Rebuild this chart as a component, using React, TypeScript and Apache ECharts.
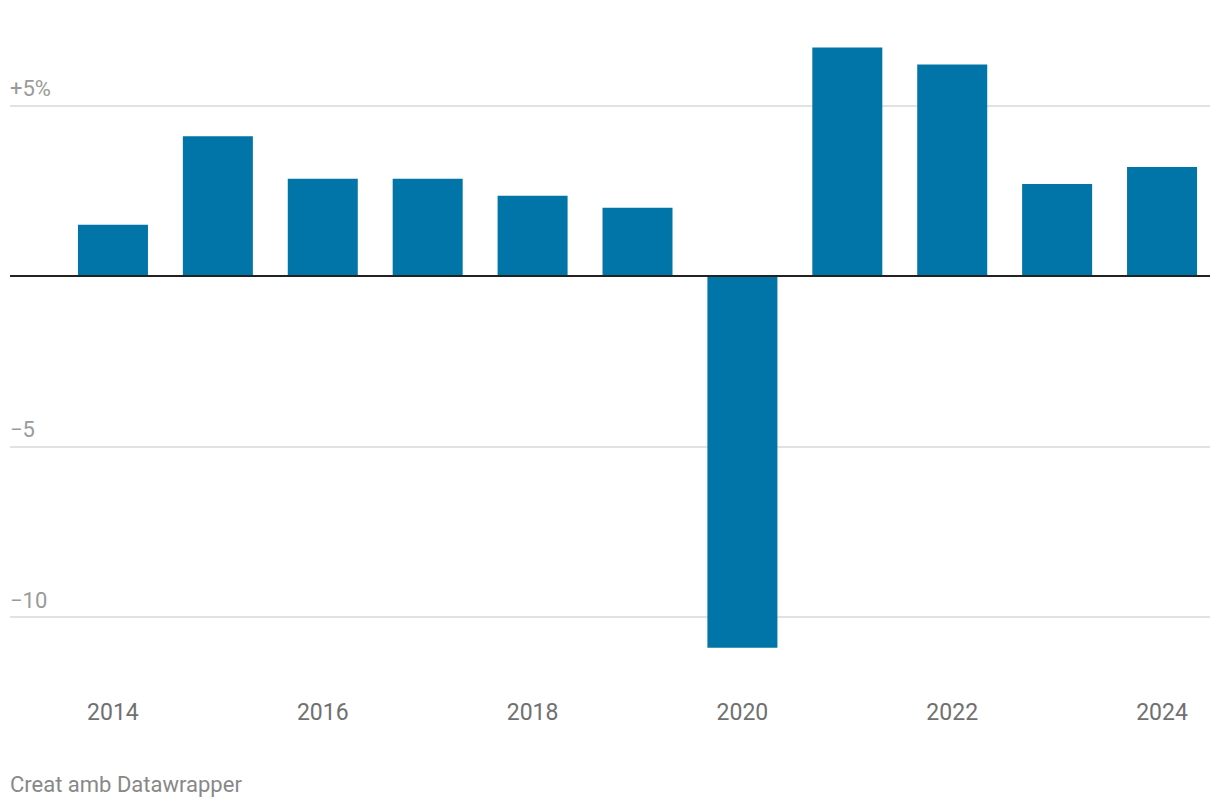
import React, { useEffect, useRef } from "react";
import * as echarts from "echarts";

const years = ["2014", "2015", "2016", "2017", "2018", "2019", "2020", "2021", "2022", "2023", "2024"];
const growth = [1.5, 4.1, 2.85, 2.85, 2.35, 2.0, -10.9, 6.7, 6.2, 2.7, 3.2];
const gridValues = [5, -5, -10];
const gridLabels = ["+5%", "\u22125", "\u221210"];
const footer = "Creat amb Datawrapper";

const Y_MIN = -11.5;
const Y_MAX = 7.5;
const TOP = 20.25;
const BOTTOM = 139.85;
const FONT = "Roboto, 'Noto Sans', sans-serif";

export default function App() {
  const ref = useRef<HTMLDivElement>(null);
  useEffect(() => {
    document.body.style.margin = "0";
    const chart = echarts.init(ref.current!, null, { renderer: "svg" });
    chart.setOption({
      animation: false,
      backgroundColor: "#ffffff",
      textStyle: { fontFamily: FONT },
      grid: [
        { left: 10, right: 10, top: TOP, bottom: BOTTOM },
        { left: 60.5, right: 5.5, top: TOP, bottom: BOTTOM },
      ],
      xAxis: [
        { type: "value", gridIndex: 0, min: 0, max: 1, show: false },
        {
          type: "category",
          gridIndex: 1,
          data: years,
          axisLine: { show: false },
          axisTick: { show: false },
          axisLabel: {
            interval: 1,
            color: "#707070",
            fontSize: 23,
            fontFamily: FONT,
            margin: 33,
          },
        },
      ],
      yAxis: [
        { type: "value", gridIndex: 0, min: Y_MIN, max: Y_MAX, show: false },
        { type: "value", gridIndex: 1, min: Y_MIN, max: Y_MAX, show: false },
      ],
      series: [
        {
          type: "scatter",
          xAxisIndex: 0,
          yAxisIndex: 0,
          data: [[0, 0]],
          symbolSize: 0,
          silent: true,
          z: 0,
          markLine: {
            silent: true,
            symbol: "none",
            z: 0,
            lineStyle: { color: "#e2e2e2", width: 2, type: "solid" },
            label: {
              position: "insideStartTop",
              distance: [0, 6],
              color: "#9a9a9a",
              fontSize: 22,
              fontFamily: FONT,
              formatter: (p: any) => gridLabels[gridValues.indexOf(p.value)],
            },
            data: gridValues.map((v) => ({ yAxis: v })),
          },
        },
        {
          type: "bar",
          xAxisIndex: 1,
          yAxisIndex: 1,
          data: growth,
          barWidth: 70,
          itemStyle: { color: "#0174a8" },
          z: 3,
        },
        {
          type: "scatter",
          xAxisIndex: 0,
          yAxisIndex: 0,
          data: [[0, 0]],
          symbolSize: 0,
          silent: true,
          z: 6,
          markLine: {
            silent: true,
            symbol: "none",
            z: 6,
            lineStyle: { color: "#222222", width: 2, type: "solid" },
            label: { show: false },
            data: [{ yAxis: 0 }],
          },
        },
      ],
      graphic: [
        {
          type: "text",
          x: 10,
          y: 784,
          style: {
            text: footer,
            fill: "#888888",
            fontSize: 22,
            fontFamily: FONT,
            verticalAlign: "middle",
          },
        },
      ],
    });
    return () => chart.dispose();
  }, []);
  return <div ref={ref} style={{ position: "absolute", left: 0, top: 0, width: 1220, height: 808 }} />;
}
